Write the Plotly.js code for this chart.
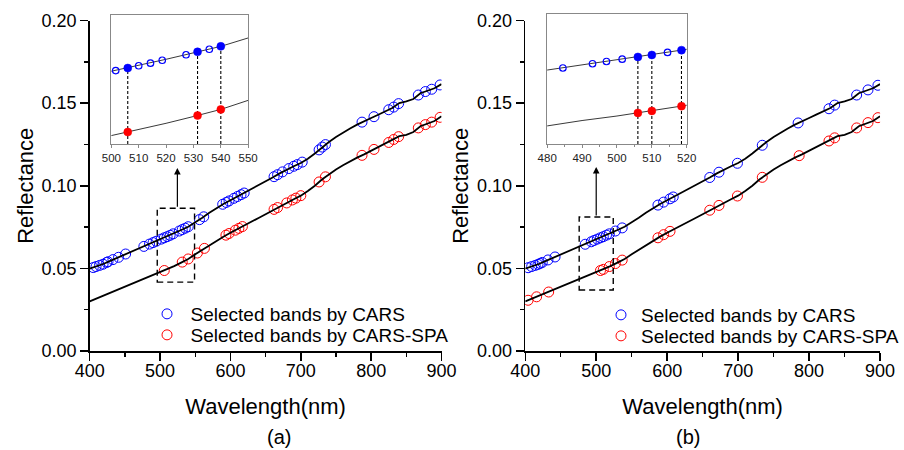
<!DOCTYPE html>
<html><head><meta charset="utf-8">
<script src="https://cdn.plot.ly/plotly-3.0.1.min.js"></script>
<style>html,body{margin:0;padding:0;background:#fff}</style>
</head><body>
<div id="chart" style="width:904px;height:450px"></div>
<script>
// Spectrum wavelengths (nm)
const wavelength = [400,410,420,430,440,450,460,470,480,490,500,510,520,530,540,550,560,570,580,590,600,610,620,630,640,650,660,670,680,690,700,710,720,730,740,750,760,770,780,790,800,810,820,830,840,850,860,870,880,890,900];
// Upper mean spectrum (CARS line)
const upperSpectrum = [0.0498,0.0512,0.0528,0.0547,0.0565,0.0585,0.0602,0.0620,0.0638,0.0656,0.0674,0.0692,0.0712,0.0732,0.0752,0.0778,0.0806,0.0836,0.0865,0.0890,0.0912,0.0935,0.0957,0.0978,0.1000,0.1025,0.1050,0.1075,0.1098,0.1118,0.1138,0.1163,0.1195,0.1232,0.1265,0.1295,0.1322,0.1346,0.1370,0.1392,0.1410,0.1430,0.1450,0.1470,0.1500,0.1510,0.1525,0.1560,0.1575,0.1590,0.1615];
// Lower mean spectrum (CARS-SPA line)
const lowerSpectrum = [0.0300,0.0318,0.0335,0.0352,0.0370,0.0388,0.0405,0.0423,0.0441,0.0460,0.0476,0.0494,0.0514,0.0535,0.0557,0.0585,0.0612,0.0642,0.0670,0.0692,0.0716,0.0737,0.0760,0.0782,0.0805,0.0828,0.0852,0.0875,0.0896,0.0918,0.0940,0.0968,0.1000,0.1038,0.1070,0.1098,0.1124,0.1148,0.1170,0.1190,0.1212,0.1232,0.1252,0.1275,0.1300,0.1308,0.1325,0.1360,0.1375,0.1392,0.1420];

// (a) selected bands
const carsA_wl = [405,409,414,419,424,426,433,441,451,477,485,490,494.5,501.6,506,510,514.3,518.6,527.3,531.5,535.8,540,556,562,589,594,598,605,610,615,619.5,662,667,674,683,690,695,702,726,730.5,735,787,804,825,832,839,867,877,886,898];
const carsA_val = [0.0505,0.0511,0.0518,0.0525,0.0536,0.0540,0.0553,0.0567,0.0587,0.0633,0.0647,0.0656,0.0664,0.0677,0.0685,0.0692,0.0700,0.0709,0.0726,0.0735,0.0743,0.0752,0.0795,0.0812,0.0888,0.0899,0.0908,0.0924,0.0935,0.0946,0.0956,0.1055,0.1067,0.1084,0.1104,0.1118,0.1128,0.1143,0.1217,0.1234,0.1249,0.1385,0.1418,0.1460,0.1476,0.1497,0.1549,0.1570,0.1584,0.1610];
const spaA_wl = [506,531.5,540,553,563,593.6,598,607,612,617,662,667,680,688,693,700,726,735,787,804,825,832,839,867,877,886,898];
const spaA_val = [0.0487,0.0538,0.0557,0.0593,0.0621,0.0701,0.0711,0.0731,0.0742,0.0753,0.0857,0.0868,0.0896,0.0914,0.0925,0.0940,0.1023,0.1054,0.1184,0.1220,0.1262,0.1280,0.1297,0.1350,0.1370,0.1385,0.1414];

// (b) selected bands
const carsB_wl = [404,409,414,418,421,424,432,442,484.5,493,497,501.5,506,510,514.5,518.5,527,536.6,587,595,604,608.5,660,673,699,734,784.5,828,836,867,883,897];
const carsB_val = [0.0504,0.0511,0.0518,0.0524,0.0530,0.0536,0.0551,0.0569,0.0646,0.0661,0.0669,0.0677,0.0685,0.0692,0.0701,0.0709,0.0726,0.0745,0.0883,0.0901,0.0921,0.0932,0.1050,0.1082,0.1136,0.1245,0.1380,0.1466,0.1488,0.1549,0.1580,0.1608];
const spaB_wl = [404,416,433,506,510,518.5,527,536.6,587,595,604,660,673,699,734,786,828,836,867,883,897];
const spaB_val = [0.0307,0.0328,0.0357,0.0487,0.0494,0.0511,0.0529,0.0550,0.0685,0.0704,0.0724,0.0852,0.0881,0.0938,0.1051,0.1182,0.1271,0.1290,0.1350,0.1382,0.1412];

// Inset (a): 500-550 nm
const insetA_open_wl = [501.6,510,514.3,518.6,527.3,535.8];
const insetA_open_val = [0.0677,0.0692,0.0700,0.0709,0.0726,0.0743];
const insetA_fill_wl = [506,531.5,540];
const insetA_fillUpper = [0.0685,0.0735,0.0752];
const insetA_fillLower = [0.0487,0.0538,0.0557];
// Inset (b): 480-520 nm
const insetB_open_wl = [484.5,493,497,501.5,514.5];
const insetB_open_val = [0.0646,0.0661,0.0669,0.0677,0.0701];
const insetB_fill_wl = [506,510,518.5];
const insetB_fillUpper = [0.0685,0.0692,0.0709];
const insetB_fillLower = [0.0487,0.0494,0.0511];

// axis ranges
const mainXRange = [400, 900];
const mainYRange = [0, 0.2];
const insetAXRange = [500, 550];
const insetAYRange = [0.0450, 0.0849];
const insetBXRange = [480, 520];
const insetBYRange = [0.0377, 0.0837];
// zoom boxes and arrows (data coordinates)
const zoomBoxA = {x0: 496, x1: 549, y0: 0.0417, y1: 0.0864};
const zoomBoxB = {x0: 476, x1: 524, y0: 0.0369, y1: 0.0811};
const arrowA = {x: 524.6, from: 0.0864, to: 0.1108};
const arrowB = {x: 500, from: 0.0811, to: 0.1114};

const FONT = 'Liberation Sans, Arial, sans-serif';
const BLUE = '#0000ff', RED = '#ff0000';

function lineTrace(xa, ya, y, w, col) {
  return {x: wavelength, y: y, xaxis: xa, yaxis: ya, mode: 'lines', line: {color: col || 'black', width: w}, showlegend: false, hoverinfo: 'skip'};
}
function openTrace(xa, ya, x, y, col, name, size, lw, legend) {
  return {x: x, y: y, xaxis: xa, yaxis: ya, mode: 'markers', name: name,
    marker: {symbol: 'circle-open', color: col, size: size, line: {width: lw, color: col}},
    showlegend: !!legend, legend: legend || 'legend', hoverinfo: 'skip'};
}
function filledTrace(xa, ya, x, y, col) {
  return {x: x, y: y, xaxis: xa, yaxis: ya, mode: 'markers',
    marker: {symbol: 'circle', color: col, size: 8, line: {width: 0.5, color: col}},
    showlegend: false, hoverinfo: 'skip'};
}
function dropLines(xa, ya, xs, tops, bottom) {
  const X = [], Y = [];
  xs.forEach((w, i) => { X.push(w, w, null); Y.push(bottom, tops[i], null); });
  return {x: X, y: Y, xaxis: xa, yaxis: ya, mode: 'lines', line: {color: 'black', width: 1.1, dash: '3px,2px'}, showlegend: false, hoverinfo: 'skip'};
}

const traces = [
  // (a) main
  openTrace('x', 'y', carsA_wl, carsA_val, BLUE, 'Selected bands by CARS', 10, 1, 'legend'),
  openTrace('x', 'y', spaA_wl, spaA_val, RED, 'Selected bands by CARS-SPA', 10, 1, 'legend2'),
  lineTrace('x', 'y', upperSpectrum, 1.8),
  lineTrace('x', 'y', lowerSpectrum, 1.8),
  // (b) main
  openTrace('x2', 'y2', carsB_wl, carsB_val, BLUE, 'Selected bands by CARS', 10, 1, 'legend3'),
  openTrace('x2', 'y2', spaB_wl, spaB_val, RED, 'Selected bands by CARS-SPA', 10, 1, 'legend4'),
  lineTrace('x2', 'y2', upperSpectrum, 1.8),
  lineTrace('x2', 'y2', lowerSpectrum, 1.8),
  // inset (a)
  lineTrace('x3', 'y3', upperSpectrum, 0.9, '#222'),
  lineTrace('x3', 'y3', lowerSpectrum, 0.9, '#222'),
  dropLines('x3', 'y3', insetA_fill_wl, insetA_fillUpper, insetAYRange[0]),
  openTrace('x3', 'y3', insetA_open_wl, insetA_open_val, BLUE, '', 6.5, 1.2, null),
  filledTrace('x3', 'y3', insetA_fill_wl, insetA_fillUpper, BLUE),
  filledTrace('x3', 'y3', insetA_fill_wl, insetA_fillLower, RED),
  // inset (b)
  lineTrace('x4', 'y4', upperSpectrum, 0.9, '#222'),
  lineTrace('x4', 'y4', lowerSpectrum, 0.9, '#222'),
  dropLines('x4', 'y4', insetB_fill_wl, insetB_fillUpper, insetBYRange[0]),
  openTrace('x4', 'y4', insetB_open_wl, insetB_open_val, BLUE, '', 6.5, 1.2, null),
  filledTrace('x4', 'y4', insetB_fill_wl, insetB_fillUpper, BLUE),
  filledTrace('x4', 'y4', insetB_fill_wl, insetB_fillLower, RED)
];

const W = 904, H = 450;
const px = v => v / W, py = v => 1 - v / H;

function mainX(domain) {
  return {domain: domain, range: mainXRange, showgrid: false, zeroline: false, showline: true, linecolor: 'black', linewidth: 1.5,
    ticks: 'outside', ticklen: 8, tickwidth: 1.5, tickcolor: 'black', dtick: 100, tick0: 400, ticklabelstandoff: -5,
    minor: {dtick: 50, ticks: 'outside', ticklen: 4, tickwidth: 1.5, tickcolor: 'black'},
    tickfont: {family: FONT, size: 18, color: 'black'},
    title: {text: 'Wavelength(nm)', font: {family: FONT, size: 22, color: 'black'}, standoff: 18}};
}
function mainY(domain, anchor) {
  return {domain: domain, anchor: anchor, range: mainYRange, showgrid: false, zeroline: false, showline: true, linecolor: 'black', linewidth: 1.5,
    ticks: 'outside', ticklen: 8, tickwidth: 1.5, tickcolor: 'black', dtick: 0.05, tick0: 0, tickformat: '.2f',
    minor: {dtick: 0.025, ticks: 'outside', ticklen: 4, tickwidth: 1.5, tickcolor: 'black'},
    tickfont: {family: FONT, size: 18, color: 'black'},
    title: {text: 'Reflectance', font: {family: FONT, size: 22, color: 'black'}, standoff: 2}};
}
function insetX(domain, anchor, range, minor) {
  const ax = {domain: domain, anchor: anchor, range: range, showgrid: false, zeroline: false, showline: true, mirror: true,
    linecolor: '#888', linewidth: 1.2, ticks: 'outside', ticklen: 3, tickcolor: '#888', dtick: 10,
    tickfont: {family: FONT, size: 11.5, color: '#222'}};
  if (minor) ax.minor = {dtick: 5, ticks: 'outside', ticklen: 2, tickcolor: '#888'};
  return ax;
}
function insetY(domain, anchor, range) {
  return {domain: domain, anchor: anchor, range: range, showgrid: false, zeroline: false, showline: true, mirror: true,
    linecolor: '#888', linewidth: 1.2, ticks: '', showticklabels: false};
}
function legendAt(left, top, iw) {
  return {x: px(left), y: py(top), xanchor: 'left', yanchor: 'top', bgcolor: 'rgba(0,0,0,0)',
    font: {family: FONT, size: 19, color: 'black'}, itemwidth: iw, tracegroupgap: 0};
}

const layout = {
  width: W, height: H, margin: {l: 0, r: 0, t: 0, b: 0},
  paper_bgcolor: 'white', plot_bgcolor: 'rgba(0,0,0,0)',
  font: {family: FONT, color: 'black'},
  xaxis: Object.assign(mainX([px(90), px(443)]), {anchor: 'y'}),
  yaxis: mainY([py(351), py(20.5)], 'x'),
  xaxis2: Object.assign(mainX([px(527), px(883)]), {anchor: 'y2'}),
  yaxis2: mainY([py(351), py(20.5)], 'x2'),
  xaxis3: insetX([px(111.7), px(249)], 'y3', insetAXRange, false),
  yaxis3: insetY([py(144), py(15)], 'x3', insetAYRange),
  xaxis4: insetX([px(549), px(689)], 'y4', insetBXRange, true),
  yaxis4: insetY([py(144), py(14)], 'x4', insetBYRange),
  legend: legendAt(144, 295, 37),
  legend2: legendAt(144, 316, 37),
  legend3: legendAt(603, 296, 30),
  legend4: legendAt(603, 317, 30),
  shapes: [
    {type: 'rect', xref: 'x', yref: 'y', x0: zoomBoxA.x0, x1: zoomBoxA.x1, y0: zoomBoxA.y0, y1: zoomBoxA.y1,
      line: {color: 'black', width: 1.4, dash: '6px,4px'}},
    {type: 'rect', xref: 'x2', yref: 'y2', x0: zoomBoxB.x0, x1: zoomBoxB.x1, y0: zoomBoxB.y0, y1: zoomBoxB.y1,
      line: {color: 'black', width: 1.4, dash: '6px,4px'}}
  ],
  annotations: [
    {xref: 'x', yref: 'y', axref: 'x', ayref: 'y', x: arrowA.x, y: arrowA.to, ax: arrowA.x, ay: arrowA.from,
      showarrow: true, arrowhead: 2, arrowsize: 1.1, arrowwidth: 1.2, arrowcolor: 'black', text: ''},
    {xref: 'x2', yref: 'y2', axref: 'x2', ayref: 'y2', x: arrowB.x, y: arrowB.to, ax: arrowB.x, ay: arrowB.from,
      showarrow: true, arrowhead: 2, arrowsize: 1.1, arrowwidth: 1.2, arrowcolor: 'black', text: ''},
    {xref: 'paper', yref: 'paper', x: px(266), y: py(437), yanchor: 'middle', text: '(a)', showarrow: false,
      font: {family: FONT, size: 20, color: 'black'}},
    {xref: 'paper', yref: 'paper', x: px(704), y: py(437), yanchor: 'middle', text: '(b)', showarrow: false,
      font: {family: FONT, size: 20, color: 'black'}}
  ]
};

Plotly.newPlot('chart', traces, layout, {displayModeBar: false, staticPlot: true});
</script>
</body></html>
